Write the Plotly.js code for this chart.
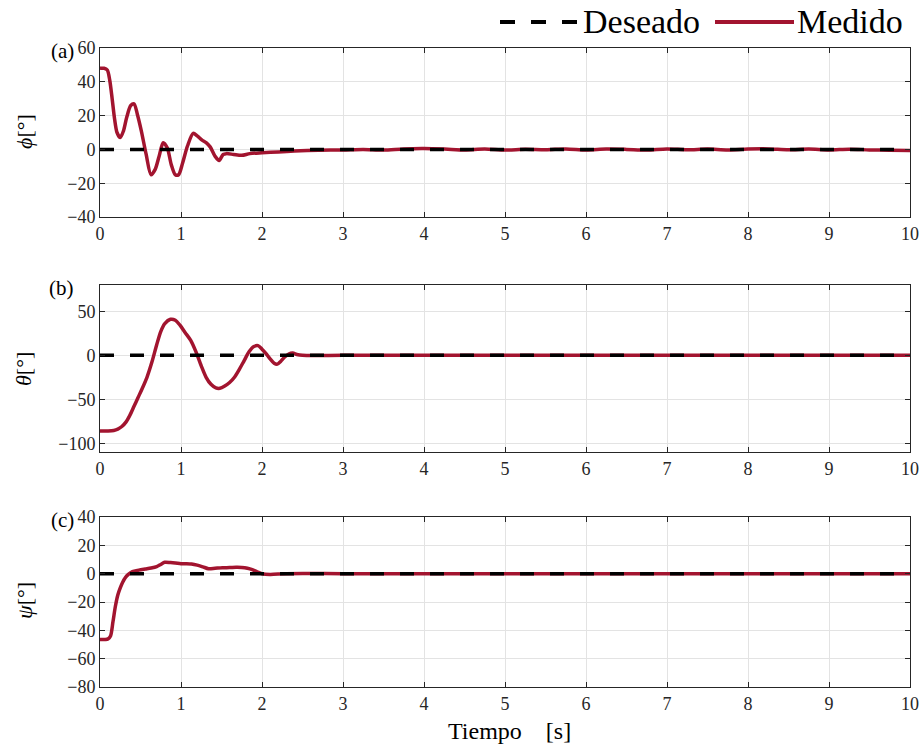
<!DOCTYPE html>
<html>
<head>
<meta charset="utf-8">
<script src="https://cdn.plot.ly/plotly-3.0.1.min.js"></script>
<style>html,body{margin:0;padding:0;background:#fff;}#chart{width:922px;height:748px;}</style>
</head>
<body>
<div id="chart"></div>
<script>
// Desired (reference) values
const desT = [0, 10];
const desPhi = [0, 0];
const desTheta = [0, 0];
const desPsi = [0, 0];

// Measured phi (roll)
const phiT = [0, 0.05, 0.09, 0.12, 0.15, 0.18, 0.21, 0.25, 0.29, 0.33, 0.38, 0.42, 0.46, 0.51, 0.57, 0.63, 0.68, 0.73, 0.78, 0.83, 0.88, 0.93, 0.97, 1.02, 1.08, 1.15, 1.2, 1.26, 1.31, 1.36, 1.42, 1.47, 1.52, 1.56, 1.65, 1.75, 1.85, 2.0, 2.2, 2.4, 2.7, 3.0, 3.25, 3.5, 3.75, 4.0, 4.25, 4.5, 4.75, 5.0, 5.25, 5.5, 5.75, 6.0, 6.25, 6.5, 6.75, 7.0, 7.25, 7.5, 7.75, 8.0, 8.25, 8.5, 8.75, 9.0, 9.25, 9.5, 9.75, 10.0];
const phiV = [48, 48, 47, 41, 30, 18, 10, 7, 11, 19, 26, 27, 21, 11, -3, -15, -12, -4, 4, 1, -9, -15, -15, -8, 2, 9.5, 8, 5.5, 4, 1.5, -4, -6.5, -3, -2.5, -3, -3.5, -2.5, -2, -1.5, -1, -0.5, -0.3, 0, -0.4, 0.3, 0.5, 0.2, -0.3, 0.2, -0.4, 0.1, -0.2, 0.3, -0.3, 0.2, 0, -0.4, 0.3, -0.2, 0.2, -0.3, 0.2, 0.3, -0.2, 0.2, -0.3, 0.1, -0.3, -0.5, -0.6];

// Measured theta (pitch)
const thetaT = [0, 0.1, 0.17, 0.22, 0.27, 0.32, 0.37, 0.42, 0.47, 0.52, 0.58, 0.64, 0.7, 0.75, 0.8, 0.87, 0.93, 0.99, 1.05, 1.12, 1.18, 1.25, 1.31, 1.37, 1.43, 1.48, 1.54, 1.6, 1.66, 1.72, 1.78, 1.84, 1.9, 1.95, 2.0, 2.05, 2.1, 2.15, 2.19, 2.23, 2.28, 2.33, 2.38, 2.43, 2.5, 3.0, 4.0, 5.0, 6.0, 7.0, 8.0, 9.0, 10.0];
const thetaV = [-86, -86, -85.5, -84, -81, -76, -68, -58, -48, -38, -25, -8, 12, 27, 36, 41, 40, 34, 26, 17, 5, -12, -25, -33, -37, -37.5, -35, -31, -25, -16, -6, 4, 10, 11, 7, 2, -4, -9, -10, -7, -2, 1.5, 2.5, 1, 0, 0, 0, 0, 0, 0, 0, 0, 0];

// Measured psi (yaw)
const psiT = [0, 0.1, 0.13, 0.16, 0.19, 0.22, 0.25, 0.28, 0.31, 0.35, 0.4, 0.48, 0.56, 0.63, 0.7, 0.75, 0.8, 0.87, 0.93, 1.0, 1.07, 1.13, 1.2, 1.27, 1.34, 1.42, 1.51, 1.6, 1.68, 1.75, 1.82, 1.88, 1.94, 2.0, 2.1, 2.3, 3.0, 4.0, 5.0, 6.0, 7.0, 8.0, 9.0, 10.0];
const psiV = [-46.5, -46, -44, -34, -23, -15, -10, -6, -3, -0.5, 1.5, 2.5, 3.3, 4, 5, 6.5, 8, 7.8, 7.5, 7, 7, 6.8, 6, 4.8, 3.5, 3.8, 4.2, 4.3, 4.5, 4.4, 3.8, 2.8, 1.3, 0, -0.5, 0, 0, 0, 0, 0, 0, 0, 0, 0];

const xTicks = [0, 1, 2, 3, 4, 5, 6, 7, 8, 9, 10];
const phiTicks = [-40, -20, 0, 20, 40, 60];
const thetaTicks = [-100, -50, 0, 50];
const psiTicks = [-80, -60, -40, -20, 0, 20, 40];

const RED = '#A2142F';
const FONT = "'Liberation Serif', 'Times New Roman', serif";
const DASH = '14px,16px';

function meas(x, y, xa, ya) {
  return {x: x, y: y, xaxis: xa, yaxis: ya, type: 'scatter', mode: 'lines',
    line: {color: RED, width: 3.5, shape: 'spline', smoothing: 0.8}, showlegend: false, hoverinfo: 'skip'};
}
function des(x, y, xa, ya) {
  return {x: x, y: y, xaxis: xa, yaxis: ya, type: 'scatter', mode: 'lines',
    line: {color: '#000', width: 3.5, dash: DASH}, showlegend: false, hoverinfo: 'skip'};
}

const data = [
  meas(phiT, phiV, 'x', 'y'), des(desT, desPhi, 'x', 'y'),
  meas(thetaT, thetaV, 'x2', 'y2'), des(desT, desTheta, 'x2', 'y2'),
  meas(psiT, psiV, 'x3', 'y3'), des(desT, desPsi, 'x3', 'y3')
];

function xax(anchor) {
  return {anchor: anchor, range: [0, 10], tickvals: xTicks, ticktext: xTicks.map(String),
    showgrid: true, gridcolor: '#e3e3e3', gridwidth: 1, zeroline: false,
    showline: true, linecolor: '#262626', linewidth: 1, mirror: 'ticks',
    ticks: 'inside', ticklen: 5, tickcolor: '#262626',
    tickfont: {family: FONT, size: 18, color: '#262626'}};
}
function yax(anchor, range, ticks, domain) {
  return {anchor: anchor, domain: domain, range: range, tickvals: ticks,
    showgrid: true, gridcolor: '#e3e3e3', gridwidth: 1, zeroline: false,
    showline: true, linecolor: '#262626', linewidth: 1, mirror: 'ticks',
    ticks: 'inside', ticklen: 5, tickcolor: '#262626',
    tickfont: {family: FONT, size: 18, color: '#262626'}};
}

const W = 810, H = 639, L = 100, T = 48;
function px(xp) { return (xp - L) / W; }
function py(yp) { return (T + H - yp) / H; }

const ann = [];
function txt(text, x, y, size, xanchor, angle) {
  ann.push({text: text, x: x, y: y, xref: 'paper', yref: 'paper', showarrow: false,
    xanchor: xanchor || 'center', yanchor: 'middle', textangle: angle || 0,
    font: {family: FONT, size: size, color: '#000'}});
}
txt('<i>ϕ</i>[°]', px(24), py(132), 22, 'center', -90);
txt('<i>θ</i>[°]', px(24), py(369), 22, 'center', -90);
txt('<i>ψ</i>[°]', px(24), py(601), 22, 'center', -90);
txt('(a)', px(76), py(51), 21, 'right');
txt('(b)', px(76), py(288), 21, 'right');
txt('(c)', px(76), py(520), 21, 'right');
txt('Tiempo\u00a0\u00a0\u00a0\u00a0[s]', px(509), py(731), 24, 'center');
txt('Deseado', px(581), py(21), 34, 'left');
txt('Medido', px(795), py(21), 34, 'left');

const shapes = [
  {type: 'line', xref: 'paper', yref: 'paper', x0: px(500), x1: px(578), y0: py(22), y1: py(22),
   line: {color: '#000', width: 4, dash: '15px,16px'}},
  {type: 'line', xref: 'paper', yref: 'paper', x0: px(715), x1: px(794), y0: py(22), y1: py(22),
   line: {color: RED, width: 4}}
];

const layout = {
  width: 922, height: 748,
  margin: {l: L, r: 922 - L - W, t: T, b: 748 - T - H},
  paper_bgcolor: '#fff', plot_bgcolor: '#fff',
  showlegend: false,
  xaxis: xax('y'), yaxis: yax('x', [-40, 60], phiTicks, [py(217), 1]),
  xaxis2: xax('y2'), yaxis2: yax('x2', [-110, 80], thetaTicks, [py(452), py(285)]),
  xaxis3: xax('y3'), yaxis3: yax('x3', [-80, 40], psiTicks, [0, py(517)]),
  annotations: ann, shapes: shapes
};

Plotly.newPlot('chart', data, layout, {staticPlot: true, displayModeBar: false});
</script>
</body>
</html>
